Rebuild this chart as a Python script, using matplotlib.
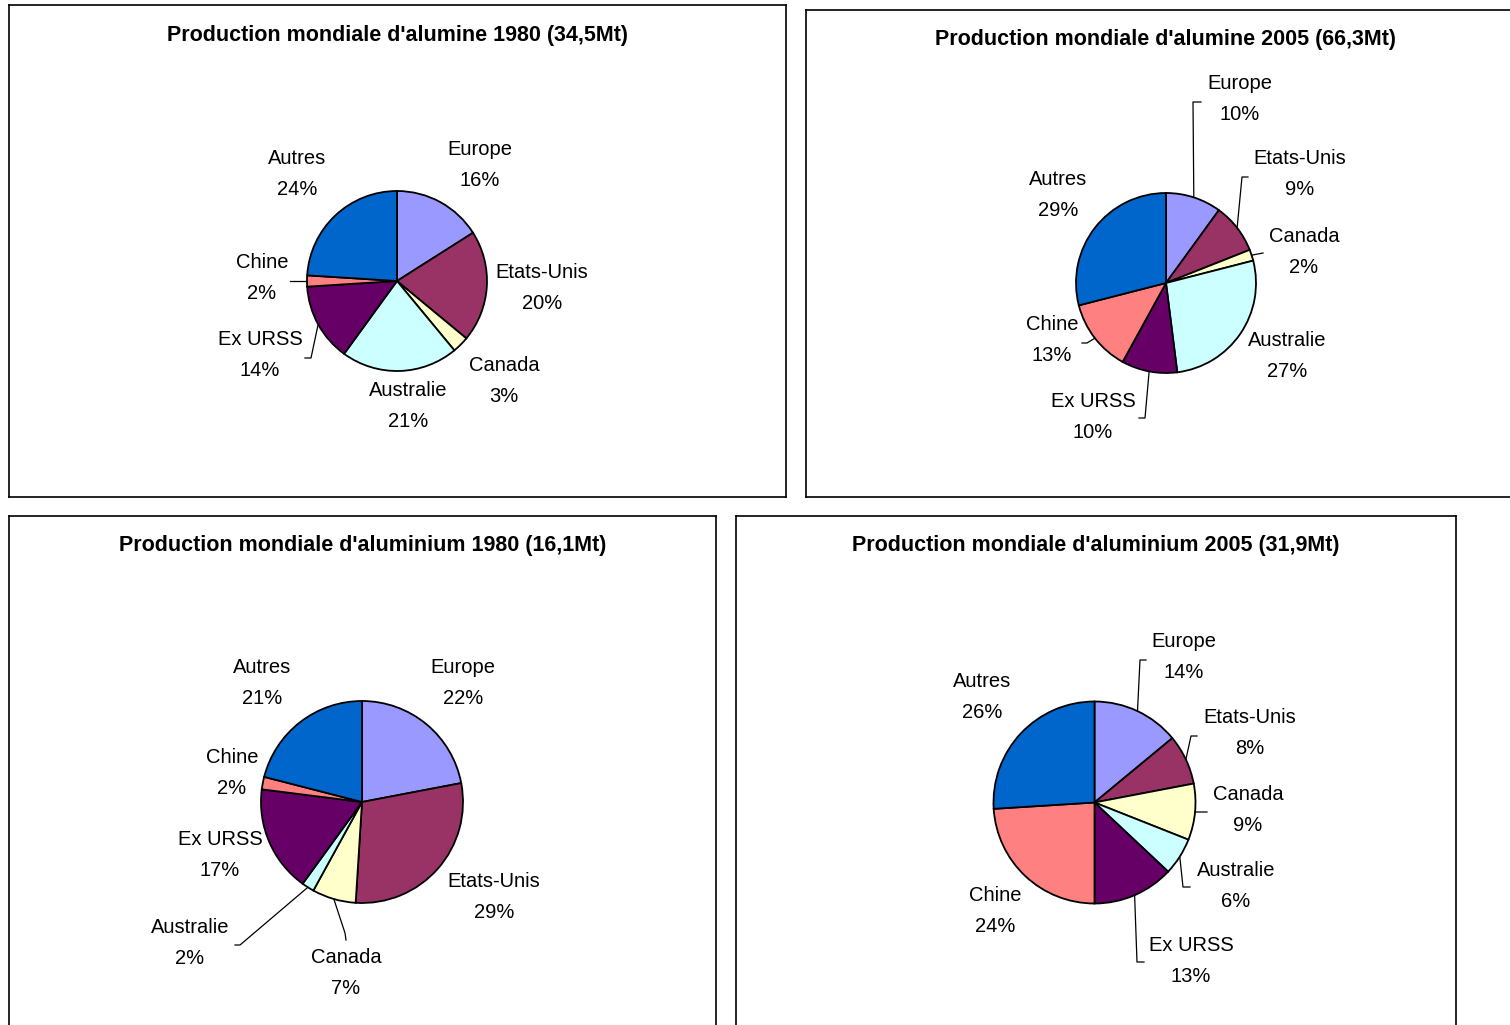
import numpy as np
import matplotlib.pyplot as plt

plt.rcParams['font.family'] = ['Liberation Sans', 'DejaVu Sans']

# ---------------- donnees ----------------
regions = ['Europe', 'Etats-Unis', 'Canada', 'Australie', 'Ex URSS', 'Chine', 'Autres']
couleurs = ['#9999FF', '#993366', '#FFFFCC', '#CCFFFF', '#660066', '#FF8080', '#0066CC']

titres = ["Production mondiale d'alumine 1980 (34,5Mt)",
          "Production mondiale d'alumine 2005 (66,3Mt)",
          "Production mondiale d'aluminium 1980 (16,1Mt)",
          "Production mondiale d'aluminium 2005 (31,9Mt)"]

alumine_1980 = [16, 20, 3, 21, 14, 2, 24]
alumine_2005 = [10, 9, 2, 27, 10, 13, 29]
aluminium_1980 = [22, 29, 7, 2, 17, 2, 21]
aluminium_2005 = [14, 8, 9, 6, 13, 24, 26]
valeurs = [alumine_1980, alumine_2005, aluminium_1980, aluminium_2005]

# ---------------- mise en page (pixels de l'image) ----------------
W, H = 1510, 1025
cadres = [(9, 5, 786, 497), (806, 10, 1525, 497), (9, 516, 716, 1045), (736, 516, 1456, 1045)]
centres = [(397, 281), (1166, 283), (362, 802), (1094.5, 802.5)]
rayons = [90, 90, 101, 101]
titre_y = [35, 39, 545, 545]

# position du centre de chaque etiquette (ordre des regions)
etiquettes = [
    [(480, 165), (542, 288), (504, 381), (408, 406), (260, 355), (262, 278), (297, 174)],
    [(1240, 99), (1300, 174), (1304, 252), (1287, 356), (1093, 417), (1052, 340), (1058, 195)],
    [(463, 683), (494, 897), (346, 973), (190, 943), (220, 855), (232, 773), (262, 683)],
    [(1184, 657), (1250, 733), (1248, 810), (1236, 886), (1191, 961), (995, 911), (982, 697)],
]
# lignes de rappel : coude puis petit trait final (None = pas de ligne)
rappels = [
    [None, None, None, None, [(311, 358), (305, 358)], [(292, 281), (290, 281)], None],
    [[(1193, 102), (1201, 102)], [(1242, 177), (1248, 177)], [(1263, 253), (1263, 253)],
     None, [(1145, 418), (1139, 418)], [(1087, 343), (1082, 343)], None],
    [None, None, [(345, 933), (346, 940)], [(240, 945), (235, 945)], None, None, None],
    [[(1140, 660), (1146, 660)], [(1191, 736), (1197, 736)], [(1207, 812), (1207, 812)],
     [(1183, 887), (1190, 887)], [(1137, 962), (1144, 962)], None, None],
]

fig = plt.figure(figsize=(W / 100, H / 100), dpi=100)

for k in range(4):
    x0, y0, x1, y1 = cadres[k]
    ax = fig.add_axes([x0 / W, 1 - y1 / H, (x1 - x0) / W, (y1 - y0) / H])

    # y inverse -> counterclock=True donne le sens horaire a l'ecran
    wedges, _ = ax.pie(valeurs[k], colors=couleurs, startangle=-90, counterclock=True,
                       center=centres[k], radius=rayons[k], frame=True,
                       wedgeprops=dict(edgecolor='black', linewidth=1.3))
    ax.set_xlim(x0, x1)
    ax.set_ylim(y1, y0)                     # axe y inverse : coordonnees image
    ax.set_aspect('equal')
    ax.set_xticks([])
    ax.set_yticks([])
    for s in ax.spines.values():
        s.set_linewidth(1.2)
        s.set_color('black')

    ax.text((x0 + x1) / 2, titre_y[k], titres[k], ha='center', va='center',
            fontsize=15.5, fontweight='bold')

    for i, w in enumerate(wedges):
        lx, ly = etiquettes[k][i]
        ax.text(lx, ly, f"{regions[i]}\n{valeurs[k][i]}%", ha='center', va='center',
                fontsize=14.5, linespacing=1.75)
        if rappels[k][i] is not None:
            ang = np.deg2rad((w.theta1 + w.theta2) / 2)     # milieu de la part
            ex = w.center[0] + w.r * np.cos(ang)
            ey = w.center[1] + w.r * np.sin(ang)
            (cx, cy), (tx, ty) = rappels[k][i]
            ax.plot([ex, cx, tx], [ey, cy, ty], color='black', lw=0.9)

fig.savefig('out.png', dpi=100)
